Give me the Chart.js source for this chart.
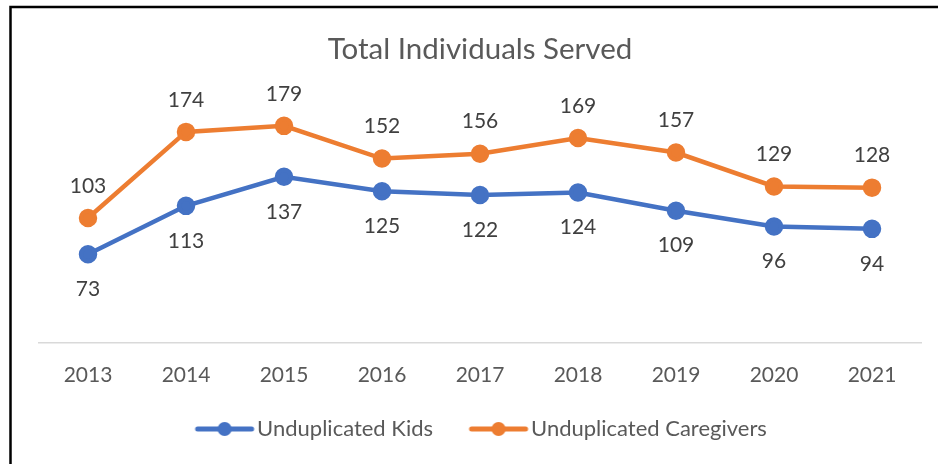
<!DOCTYPE html>
<html>
<head>
<meta charset="utf-8">
<script src="https://cdn.jsdelivr.net/npm/chart.js@4/dist/chart.umd.min.js"></script>
<style>
html,body{margin:0;padding:0;background:#fff;}
#wrap{position:absolute;left:0;top:0;width:938px;height:464px;}
</style>
</head>
<body>
<div id="wrap"><canvas id="c" width="938" height="464"></canvas></div>
<script>
const years = ['2013','2014','2015','2016','2017','2018','2019','2020','2021'];
const kids = [73,113,137,125,122,124,109,96,94];
const caregivers = [103,174,179,152,156,169,157,129,128];
const seriesNames = ['Unduplicated Kids','Unduplicated Caregivers'];
const colors = ['#4472C4','#ED7D31'];
const FONT = 'Lato';

function legendIcon(color){
  const cv = document.createElement('canvas');
  cv.width = 96; cv.height = 16;
  const g = cv.getContext('2d');
  g.strokeStyle = color; g.lineWidth = 5; g.lineCap = 'round';
  g.beginPath(); g.moveTo(38,8); g.lineTo(92,8); g.stroke();
  g.fillStyle = color; g.beginPath(); g.arc(65,8,7,0,Math.PI*2); g.fill();
  return cv;
}
const icons = colors.map(legendIcon);

const labelPlugin = {
  id:'dl',
  afterLayout(chart){
    if (chart.legend){ chart.legend.left -= 12; chart.legend.right -= 12; }
  },
  afterDatasetsDraw(chart){
    const ctx = chart.ctx;
    ctx.save();
    ctx.font = '21px ' + FONT;
    ctx.fillStyle = '#404040';
    ctx.textAlign = 'center';
    ctx.textBaseline = 'middle';
    chart.data.datasets.forEach((ds,i)=>{
      const meta = chart.getDatasetMeta(i);
      meta.data.forEach((pt,j)=>{
        const dy = i===0 ? 35 : -32;
        ctx.fillText(String(ds.data[j]), pt.x, pt.y + dy);
      });
    });
    ctx.restore();
  }
};
const borderPlugin = {
  id:'frame',
  afterDraw(chart){
    const ctx = chart.ctx;
    ctx.save();
    ctx.strokeStyle = '#000'; ctx.lineWidth = 2.5;
    ctx.beginPath();
    ctx.moveTo(10.5, 464); ctx.lineTo(10.5, 7); ctx.lineTo(938, 7);
    ctx.stroke();
    ctx.restore();
  }
};

new Chart(document.getElementById('c'), {
  type:'line',
  data:{
    labels: years,
    datasets:[
      {label:seriesNames[0], data:kids, borderColor:colors[0], backgroundColor:colors[0], borderWidth:4.5, pointRadius:7, pointHoverRadius:7, pointStyle:'circle', tension:0},
      {label:seriesNames[1], data:caregivers, borderColor:colors[1], backgroundColor:colors[1], borderWidth:4.5, pointRadius:7, pointHoverRadius:7, pointStyle:'circle', tension:0}
    ]
  },
  options:{
    responsive:false,
    animation:false,
    devicePixelRatio:1,
    layout:{padding:{left:39, right:17, top:0, bottom:14}},
    scales:{
      x:{
        offset:true,
        grid:{display:false, drawTicks:false},
        border:{display:true, color:'#d9d9d9', width:1.5},
        ticks:{color:'#595959', font:{family:FONT, size:21}, padding:20}
      },
      y:{
        display:false,
        min:0, max:200
      }
    },
    plugins:{
      title:{display:true, text:'Total Individuals Served', color:'#595959', font:{family:FONT, size:29.5, weight:'normal'}, padding:{top:32, bottom:33}},
      legend:{
        position:'bottom',
        labels:{
          usePointStyle:true,
          pointStyleWidth:77,
          color:'#595959',
          font:{family:FONT, size:22},
          padding:10,
          generateLabels(chart){
            return chart.data.datasets.map((ds,i)=>({
              text: ds.label, pointStyle: icons[i], fillStyle: colors[i], strokeStyle: colors[i], lineWidth:0, datasetIndex:i, hidden:false, fontColor:'#595959'
            }));
          }
        }
      },
      tooltip:{enabled:false}
    }
  },
  plugins:[labelPlugin, borderPlugin]
});
</script>
</body>
</html>
